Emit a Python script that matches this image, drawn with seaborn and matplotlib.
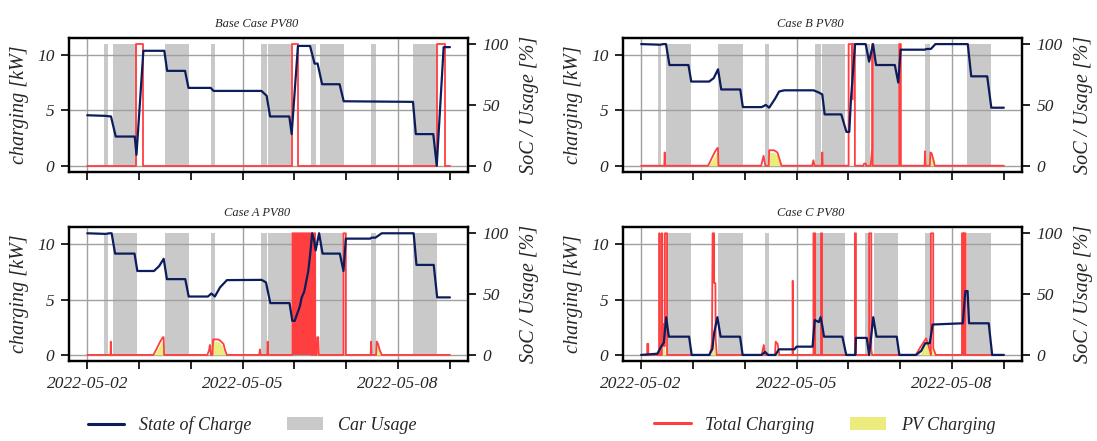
import pandas as pd
import matplotlib
matplotlib.use("Agg")
import matplotlib.pyplot as plt
import matplotlib.dates as mdates
from matplotlib.lines import Line2D
from matplotlib.patches import Patch
import seaborn as sns

# ── data (hours after 2022-05-02 00:00, SoC in %, charging in kW) ──
start_day = pd.Timestamp("2022-05-02")

# car usage periods (same for all cases), shown at 100 % on the right axis
usage_start = [7.8, 11.7, 35.8, 57.2, 80.6, 83.8, 103.7, 107.8, 131.5, 151.0]
usage_end = [9.4, 22.9, 47.0, 59.0, 83.5, 94.3, 105.8, 119.0, 133.7, 162.2]
usage_level = 100

# Base Case
base_soc_h = [0, 8.4, 11.0, 13.2, 22.0, 22.8, 26.0, 35.7, 37.0, 45.3, 46.9, 57.2, 58.5,
              80.7, 81.9, 83.1, 84.7, 93.6, 94.7, 97.6, 103.2, 105.3, 106.7, 108.8, 116.9,
              118.8, 150.9, 152.2, 160.3, 161.9, 165.1, 168.0]
base_soc = [41.5, 41, 40.5, 24, 24, 9, 94.5, 94.5, 78, 78, 64, 64, 61.5,
            61.5, 59.5, 57.5, 40.5, 40.5, 26, 98.5, 98.5, 84, 84, 67, 67,
            53, 52.5, 26, 26, 0, 97.5, 97.5]
base_chg_h = [0, 22.8, 22.8, 26.0, 26.0, 94.7, 94.7, 97.6, 97.6, 161.9, 161.9, 165.5, 165.5, 168.0]
base_chg = [0, 0, 11, 11, 0, 0, 11, 11, 0, 0, 11, 11, 0, 0]

# Case A
a_soc_h = [0, 8.4, 10.3, 11.3, 12.9, 21.9, 23.2, 30.9, 33.3, 35.4, 36.9, 45.4, 47.0, 55.9,
           57.5, 59.1, 61.5, 64.7, 80.8, 82.8, 84.8, 93.7, 95.0, 96.1, 97.7, 98.5, 99.3,
           100.5, 101.4, 102.4, 103.4, 104.2, 105.0, 105.8, 107.4, 109.0, 117.0, 118.7,
           119.8, 131.1, 131.7, 133.5, 136.4, 151.2, 152.5, 160.5, 162.1, 168.0]
a_soc = [100, 99.5, 100, 100, 83.3, 83.3, 69, 69, 73, 79, 62.3, 62.3, 48, 48,
         50.5, 48, 55.5, 61.5, 61.7, 59.6, 42.6, 42.6, 28, 28, 36, 40, 47,
         52, 60, 69, 85, 100, 95, 86, 100, 83.3, 83.3, 69,
         95.6, 95.6, 96.4, 96.4, 100, 100, 74, 74, 47.3, 47.3]
a_chg_h = [0, 10.8, 10.9, 11.1, 30.6, 32.0, 33.5, 35.0, 35.4, 35.6, 55.6, 56.4, 56.8, 57.3,
           58.0, 58.3, 60.7, 61.5, 63.1, 63.9, 64.7, 79.6, 80.0, 80.3, 83.4, 83.6, 83.8,
           95.0, 95.0, 103.9, 103.9, 104.5, 104.5, 105.6, 105.6, 106.3, 106.5, 107.0, 107.3,
           118.7, 118.7, 119.8, 119.8, 131.3, 131.5, 131.7, 133.8, 134.1, 134.7, 135.4,
           136.4, 168.0]
a_chg = [0, 0, 1.2, 0, 0, 0.5, 1.1, 1.6, 1.6, 0, 0, 0.4, 0.9, 0,
         0, 1.4, 1.4, 1.3, 1.0, 0.4, 0, 0, 0.5, 0, 0, 1.2, 0,
         0, 11, 11, 0, 0, 11, 11, 0, 0, 1.6, 1.6, 0,
         0, 11, 11, 0, 0, 1.2, 0, 0, 1.2, 1.0, 0.5,
         0, 0]
# dense on/off charging around 2022-05-06 (drawn as a solid block)
a_burst_start = [95.0, 104.5]
a_burst_end = [103.9, 105.6]
burst_level = 11
a_pv_h = [0, 30.6, 32.3, 33.6, 35.2, 35.6, 58.0, 58.3, 60.7, 62.5, 64.0, 106.3, 106.5,
          107.0, 107.3, 134.0, 134.3, 135.3, 136.0, 168.0]
a_pv = [0, 0, 0.4, 0.9, 1.4, 0, 0, 1.2, 1.2, 0.8, 0, 0, 1.5,
        1.5, 0, 0, 0.8, 0.4, 0, 0]

# Case B
b_soc_h = [0, 8.8, 10.4, 11.5, 13.1, 21.9, 23.2, 31.5, 33.6, 35.6, 37.1, 45.9, 47.1, 55.9,
           57.7, 59.3, 62.0, 63.9, 66.3, 79.9, 82.5, 83.9, 85.0, 92.7, 95.1, 96.4, 97.2,
           99.1, 104.0, 105.6, 107.4, 108.8, 117.5, 119.1, 120.2, 131.4, 132.2, 134.2,
           136.3, 151.3, 152.9, 160.3, 162.2, 168.0]
b_soc = [100, 99.5, 100, 100, 82.8, 82.8, 69.2, 69.2, 72, 79.3, 62.7, 62.7, 48.2, 48.2,
         50, 47.7, 55, 61, 62, 62, 60, 58.6, 42.2, 42.2, 27.8, 27.8, 55,
         100, 100, 85.6, 100, 82.8, 82.8, 68.4, 95.4, 95.4, 96, 96,
         100, 100, 73.5, 73.5, 47.7, 47.7]
b_chg_h = [0, 10.7, 10.9, 11.1, 31.0, 32.5, 34.0, 35.3, 35.6, 35.8, 55.6, 56.7, 57.5, 59.1,
           59.3, 61.5, 63.1, 64.1, 65.0, 79.2, 79.8, 80.3, 83.7, 83.9, 84.1, 96.1, 96.1,
           97.7, 97.7, 98.0, 98.0, 99.0, 99.0, 102.9, 103.3, 104.0, 104.2, 106.3, 107.0,
           107.0, 107.3, 107.3, 119.5, 119.5, 120.3, 120.3, 131.3, 131.5, 131.7, 133.7,
           134.0, 134.6, 135.3, 136.0, 168.0]
b_chg = [0, 0, 1.2, 0, 0, 0.6, 1.2, 1.6, 1.6, 0, 0, 0.9, 0, 0,
         1.4, 1.4, 1.2, 0.6, 0, 0, 0.5, 0, 0, 1.2, 0, 0, 11,
         11, 6, 6, 11, 11, 0, 0, 0.2, 0.2, 0, 0, 1.5,
         11, 11, 0, 0, 11, 11, 0, 0, 1.3, 0, 0,
         1.2, 1.1, 0.6, 0, 0]
b_pv_h = [0, 31.0, 32.5, 34.0, 35.3, 35.8, 59.3, 59.5, 61.5, 63.1, 64.1, 65.0, 106.3,
          107.0, 107.3, 133.7, 134.0, 135.0, 136.0, 168.0]
b_pv = [0, 0, 0.4, 0.9, 1.3, 0, 0, 1.2, 1.2, 0.9, 0.4, 0, 0,
        1.4, 0, 0, 1.0, 0.6, 0, 0]

# Case C
c_soc_h = [0, 7.5, 9.3, 10.5, 11.6, 12.8, 22.2, 23.4, 31.6, 33.0, 33.8, 35.3, 36.8, 45.8,
           47.0, 55.8, 57.4, 58.8, 62.2, 63.8, 71.0, 72.0, 79.4, 80.4, 82.3, 83.1, 83.9,
           84.7, 93.2, 95.0, 99.2, 99.5, 104.5, 105.6, 106.3, 107.5, 109.0, 118.4, 119.6,
           127.3, 129.7, 131.6, 133.7, 135.0, 149.0, 149.8, 150.2, 151.2, 151.9, 161.0,
           162.6, 168.0]
c_soc = [0, 1, 7, 10, 31, 15, 15, 0, 0, 5, 18, 31, 15, 15,
         0, 0, 2.5, 0, 0, 4.6, 4.6, 6.8, 6.8, 28.7, 27, 31, 24,
         15, 15, 0, 0, 14, 14, 0, 11, 31, 15, 15, 0,
         0, 3.3, 9.6, 9.6, 25, 26, 44, 52.5, 52.5, 26, 26,
         0, 0]
c_chg_h = [0, 2.8, 2.8, 3.3, 3.3, 8.4, 8.4, 8.6, 8.6, 9.6, 9.6, 9.8, 9.8, 10.4, 10.4, 11.0,
           11.0, 12.0, 12.0, 31.5, 32.4, 32.8, 33.1, 33.8, 33.8, 34.4, 34.5, 35.0, 55.8,
           56.8, 57.4, 62.0, 62.3, 63.2, 64.0, 70.1, 70.2, 70.4, 79.8, 79.8, 80.6, 80.6,
           83.3, 83.3, 83.8, 83.8, 99.0, 99.0, 99.5, 99.5, 105.6, 105.6, 106.6, 106.6,
           107.0, 127.3, 129.0, 131.0, 132.0, 133.5, 134.2, 134.2, 135.3, 135.3, 136.5,
           148.6, 148.6, 149.3, 149.3, 149.6, 149.6, 150.3, 150.3, 168.0]
c_chg = [0, 0, 1.0, 1.0, 0, 0, 11, 11, 0, 0, 11, 11, 2.8, 2.8, 0.8, 0.8,
         11, 11, 0, 0, 0.5, 1.2, 11, 11, 6.5, 6.5, 1.5, 0, 0,
         0.9, 0, 0, 1.2, 1.0, 0, 0, 6.7, 0, 0, 11, 11, 0,
         0, 11, 11, 0, 0, 11, 11, 0, 0, 11, 11, 0.5,
         0, 0, 0.6, 1.2, 1.5, 0.6, 0, 11, 11, 0.6, 0,
         0, 11, 11, 0, 0, 11, 11, 0, 0]
c_pv_h = [0, 9.4, 10.2, 10.7, 11.0, 32.4, 33.0, 33.8, 34.5, 62.2, 62.5, 63.5, 105.8, 106.2,
          106.7, 129.0, 131.0, 132.5, 134.0, 135.5, 136.2, 168.0]
c_pv = [0, 0, 0.8, 1.1, 0, 0, 0.8, 1.2, 0, 0, 0.5, 0, 0, 0.5,
        0, 0, 0.8, 1.1, 0.7, 0.3, 0, 0]

# ── style ──
navy = "#0c1c5c"
red = "#ff3f3f"
pv_yellow = "#ebeb7e"
usage_grey = "grey"
usage_alpha = 0.42

sns.set_theme(style="ticks")
plt.rcParams["font.family"] = ["Liberation Serif", "DejaVu Serif"]
plt.rcParams["font.style"] = "italic"


def to_time(hours):
    return start_day + pd.to_timedelta(hours, unit="h")


def draw_case(ax, title, soc_h, soc, chg_h, chg, pv_h=None, pv=None,
              burst_start=(), burst_end=()):
    # layers: usage (back) -> charging -> state of charge (front)
    ax_use = ax.twinx()
    ax.set_zorder(ax_use.get_zorder() + 1)
    ax.patch.set_visible(False)
    ax_soc = ax.twinx()
    ax_soc.set_zorder(ax.get_zorder() + 1)
    ax_soc.set_axis_off()

    for s, e in zip(usage_start, usage_end):
        ax_use.fill_between(to_time([s, e]), 0, usage_level,
                            color=usage_grey, alpha=usage_alpha, lw=0)

    if pv_h is not None:
        ax.fill_between(to_time(pv_h), 0, pv, color=pv_yellow, lw=0)
    for s, e in zip(burst_start, burst_end):
        ax.fill_between(to_time([s, e]), 0, burst_level, color=red, lw=0)
    sns.lineplot(x=to_time(chg_h), y=chg, ax=ax, color=red, lw=1.3,
                 estimator=None, sort=False, legend=False)

    sns.lineplot(x=to_time(soc_h), y=soc, ax=ax_soc, color=navy, lw=1.6,
                 estimator=None, sort=False, legend=False)

    ax.set_ylim(-0.55, 11.55)
    ax_use.set_ylim(-5, 105)
    ax_soc.set_ylim(-5, 105)
    ax.set_yticks([0, 5, 10])
    ax_use.set_yticks([0, 50, 100])
    ax.set_ylabel("charging [kW]", fontsize=14.5, labelpad=6)
    ax_use.set_ylabel("SoC / Usage [%]", fontsize=14.5, labelpad=8)
    ax.set_xlabel("")
    ax.set_title(title, fontsize=9, pad=8, x=0.47)

    ax.xaxis.set_major_locator(mdates.DayLocator(bymonthday=[2, 5, 8]))
    ax.xaxis.set_minor_locator(mdates.DayLocator())
    ax.xaxis.set_major_formatter(mdates.DateFormatter("%Y-%m-%d"))

    ax.grid(True, which="major", color="#a0a0a0", lw=1.0)
    ax_use.grid(False)
    for a in (ax, ax_use):
        a.tick_params(which="both", length=6, width=1.2, pad=4.5, color="black",
                      labelsize=12.5, direction="out")
        for sp in a.spines.values():
            sp.set_color("black")
            sp.set_linewidth(1.6)


fig, axes = plt.subplots(2, 2, figsize=(10.97, 4.41), dpi=100, sharex=True)
fig.subplots_adjust(left=0.063, right=0.9316, bottom=0.1814, top=0.9138,
                    wspace=0.3885, hspace=0.414)

draw_case(axes[0, 0], "Base Case PV80", base_soc_h, base_soc, base_chg_h, base_chg)
draw_case(axes[0, 1], "Case B PV80", b_soc_h, b_soc, b_chg_h, b_chg, b_pv_h, b_pv)
draw_case(axes[1, 0], "Case A PV80", a_soc_h, a_soc, a_chg_h, a_chg, a_pv_h, a_pv,
          a_burst_start, a_burst_end)
draw_case(axes[1, 1], "Case C PV80", c_soc_h, c_soc, c_chg_h, c_chg, c_pv_h, c_pv)

left_handles = [Line2D([], [], color=navy, lw=2.2),
                Patch(facecolor=usage_grey, alpha=usage_alpha, lw=0)]
right_handles = [Line2D([], [], color=red, lw=2.2),
                 Patch(facecolor=pv_yellow, lw=0)]
fig.legend(left_handles, ["State of Charge", "Car Usage"], loc="center",
           bbox_to_anchor=(0.23, 0.036), ncol=2, frameon=False, fontsize=13)
fig.legend(right_handles, ["Total Charging", "PV Charging"], loc="center",
           bbox_to_anchor=(0.752, 0.036), ncol=2, frameon=False, fontsize=13)

plt.savefig("out.png", dpi=100)
